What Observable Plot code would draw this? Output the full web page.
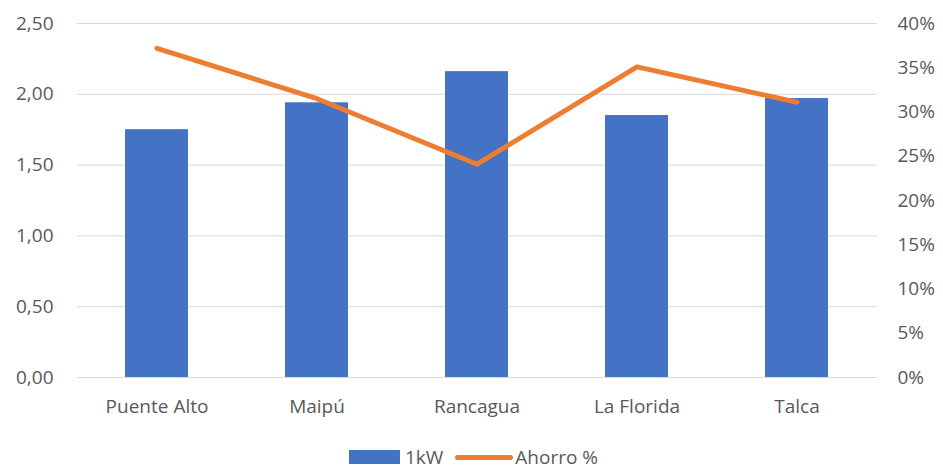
<!DOCTYPE html>
<html>
<head>
<meta charset="utf-8">
<script src="https://cdn.jsdelivr.net/npm/d3@7"></script>
<script src="https://cdn.jsdelivr.net/npm/@observablehq/plot@0.6"></script>
<style>
  html, body { margin: 0; padding: 0; background: #fff; }
  body { width: 943px; height: 469px; overflow: hidden; font-family: "Open Sans", Lato, sans-serif; color: #595959; }
  #legend { height: 22px; display: flex; justify-content: center; align-items: center; font-size: 19px; line-height: 22px; margin-left: 4px; }
  .sw { display: inline-block; }
  .item { display: flex; align-items: center; }
</style>
</head>
<body>
<div id="chart"></div>
<div id="legend">
  <span class="item"><span class="sw" style="width:51px;height:14px;background:#4472C4;margin-right:5px"></span>1kW</span>
  <span class="item" style="margin-left:12px"><span class="sw" style="width:58px;height:5px;border-radius:3px;background:#ED7D31;margin-right:2px"></span>Ahorro %</span>
</div>
<script>
const cities = ["Puente Alto", "Maipú", "Rancagua", "La Florida", "Talca"];
const kw = [1.75, 1.94, 2.16, 1.85, 1.97];
const ahorro = [37.2, 31.5, 24.1, 35.1, 31.1];
const leftTicks = [0, 0.5, 1.0, 1.5, 2.0, 2.5];
const pctTicks = [0, 5, 10, 15, 20, 25, 30, 35, 40];

const leftMax = 2.5, pctMax = 40;
const toLeft = p => p / pctMax * leftMax;

const data = cities.map((c, i) => ({city: c, kw: kw[i], pct: ahorro[i]}));

const chart = Plot.plot({
  width: 943,
  height: 446,
  marginLeft: 77,
  marginRight: 66,
  marginTop: 23,
  marginBottom: 69,
  style: {fontFamily: "'Open Sans', Lato, sans-serif", fontSize: "19px", color: "#595959", background: "#fff"},
  x: {domain: cities, paddingInner: 0.606, paddingOuter: 0.303, label: null},
  y: {domain: [0, leftMax], label: null},
  marks: [
    Plot.gridY(leftTicks, {stroke: "#d9d9d9", strokeOpacity: 1, strokeWidth: 1}),
    Plot.barY(data, {x: "city", y: "kw", fill: "#4472C4"}),
    Plot.line(data, {x: "city", y: d => toLeft(d.pct), stroke: "#ED7D31", strokeWidth: 5, strokeLinecap: "round", strokeLinejoin: "round"}),
    Plot.axisY(leftTicks, {anchor: "left", tickSize: 0, tickPadding: 24, label: null, tickFormat: d => d.toFixed(2).replace(".", ",")}),
    Plot.axisY(pctTicks.map(toLeft), {anchor: "right", tickSize: 0, tickPadding: 20, label: null, tickFormat: d => Math.round(d / leftMax * pctMax) + "%"}),
    Plot.axisX({tickSize: 0, tickPadding: 22, label: null})
  ]
});
document.getElementById("chart").appendChild(chart);
</script>
</body>
</html>
